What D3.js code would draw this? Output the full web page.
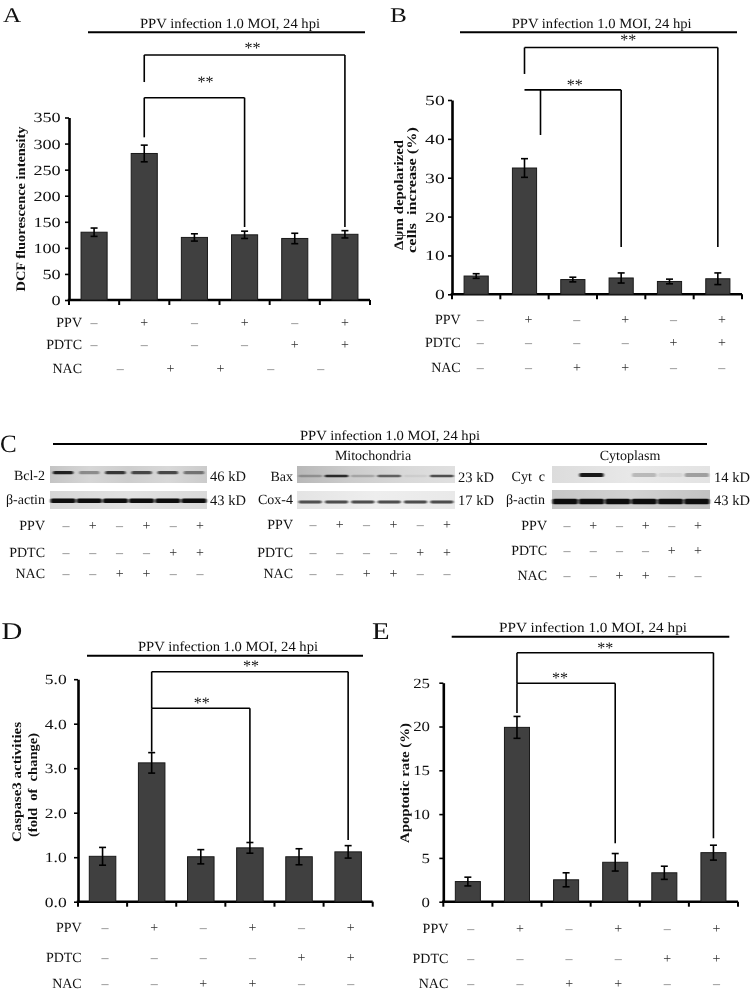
<!DOCTYPE html>
<html><head><meta charset="utf-8">
<script src="https://cdn.jsdelivr.net/npm/d3@7"></script>
<style>
body{margin:0;background:#fff}
svg{display:block;filter:grayscale(1)}
text{font-family:"Liberation Serif","Times New Roman",serif;white-space:pre;text-rendering:geometricPrecision}
</style>
</head><body>
<svg id="fig" width="751" height="992"></svg>
<script>
// ---------------- DATA ----------------
const groups = ["g1","g2","g3","g4","g5","g6"];
const ppvRow  = ["–","+","–","+","–","+"];
const pdtcRow = ["–","–","–","–","+","+"];
const nacRow  = ["–","–","+","+","–","–"];
const nacRowA = ["–","+","+","–","–"];
const titleText = "PPV infection 1.0 MOI, 24 hpi";

const dcfValues = [130, 281, 120, 125, 118, 126];
const dcfErrors = [8, 16, 7, 7, 10, 7];
const dcfTicks  = [0, 50, 100, 150, 200, 250, 300, 350];

const psiValues = [4.7, 32.5, 3.8, 4.2, 3.3, 4.0];
const psiErrors = [0.6, 2.4, 0.6, 1.3, 0.6, 1.5];
const psiTicks  = [0, 10, 20, 30, 40, 50];

const caspValues = [1.02, 3.12, 1.01, 1.21, 1.01, 1.12];
const caspErrors = [0.2, 0.23, 0.16, 0.12, 0.18, 0.14];
const caspTicks  = [0, 1, 2, 3, 4, 5];

const apoValues = [2.3, 19.9, 2.5, 4.5, 3.3, 5.6];
const apoErrors = [0.5, 1.25, 0.8, 1.0, 0.75, 0.85];
const apoTicks  = [0, 5, 10, 15, 20, 25];

// western blot band intensities (0..1) per lane
const lanes = [1, 2, 3, 4, 5, 6];
const bcl2Bands   = [0.9, 0.35, 0.8, 0.72, 0.72, 0.5];
const actinLBands = [1, 1, 1, 1, 1, 1];
const baxBands    = [0.25, 0.85, 0.2, 0.6, 0.06, 0.7];
const cox4Bands   = [0.7, 0.72, 0.72, 0.72, 0.72, 0.72];
const cytcBands   = [0.0, 0.95, 0.0, 0.2, 0.07, 0.3];
const actinRBands = [1, 1, 1, 1, 1, 1];

// ---------------- HELPERS ----------------
const svg = d3.select("#fig");
const defs = svg.append("defs");
defs.append("filter").attr("id","blur").attr("x","-20%").attr("y","-100%").attr("width","140%").attr("height","300%")
  .append("feGaussianBlur").attr("stdDeviation","1 0.6");

function stretch(sel, f){
  sel.each(function(){
    const w = this.getComputedTextLength();
    if (w > 0) d3.select(this).attr("textLength", w*f).attr("lengthAdjust","spacingAndGlyphs");
  });
  return sel;
}
function fit(sel, len){ return sel.attr("textLength", len).attr("lengthAdjust","spacingAndGlyphs"); }

function panelLetter(t, x, y, size, f){
  stretch(svg.append("text").attr("x",x).attr("y",y).attr("font-size",size).attr("fill","#111").text(t), f);
}
function header(cx, baseY, lineY, x0, x1, len){
  fit(svg.append("text").attr("x",cx).attr("y",baseY).attr("text-anchor","middle")
    .attr("font-size",14).attr("fill","#111").text(titleText), len);
  svg.append("line").attr("x1",x0).attr("x2",x1).attr("y1",lineY).attr("y2",lineY)
    .attr("stroke","#000").attr("stroke-width",2);
}

function barPanel(cfg){
  const g = svg.append("g");
  const x = d3.scaleBand().domain(groups).range(cfg.xRange);
  const y = d3.scaleLinear().domain(cfg.yDomain).range(cfg.yRange);
  const cx = i => x(groups[i]) + x.bandwidth()/2;
  const y0 = y(0);

  // y axis
  const ya = g.append("g").attr("transform",`translate(${cfg.xRange[0]},0)`)
    .call(d3.axisLeft(y).tickValues(cfg.ticks).tickFormat(cfg.fmt).tickSize(4).tickSizeOuter(0).tickPadding(cfg.tickPad));
  ya.attr("font-family",null).attr("font-size",14);
  ya.select(".domain").attr("stroke","#000").attr("stroke-width",2.6);
  ya.selectAll(".tick line").attr("stroke","#000").attr("stroke-width",1.6);
  ya.selectAll(".tick text").attr("fill","#111");
  stretch(ya.selectAll(".tick text"), cfg.tickStretch);

  // x axis
  g.append("line").attr("x1",cfg.xRange[0]-1.3).attr("x2",cfg.xRange[1]).attr("y1",y0).attr("y2",y0)
    .attr("stroke","#000").attr("stroke-width",2.6);
  const bounds = groups.map(d => x(d)).concat([x.range()[1]]);
  g.selectAll("line.xt").data(bounds).join("line").attr("class","xt")
    .attr("x1",d=>d).attr("x2",d=>d).attr("y1",y0).attr("y2",y0+5)
    .attr("stroke","#000").attr("stroke-width",2);

  // bars
  const bw = x.bandwidth()*cfg.barFrac;
  g.selectAll("rect.bar").data(cfg.values).join("rect").attr("class","bar")
    .attr("x",(d,i)=>cx(i)-bw/2).attr("y",d=>y(d)).attr("width",bw).attr("height",d=>y0-y(d))
    .attr("fill","#404040").attr("stroke","#1a1a1a").attr("stroke-width",1);
  // error bars
  const eb = g.selectAll("g.eb").data(cfg.values).join("g").attr("class","eb");
  eb.append("line").attr("x1",(d,i)=>cx(i)).attr("x2",(d,i)=>cx(i))
    .attr("y1",(d,i)=>y(d-cfg.errors[i])).attr("y2",(d,i)=>y(d+cfg.errors[i]));
  eb.append("line").attr("x1",(d,i)=>cx(i)-3.5).attr("x2",(d,i)=>cx(i)+3.5)
    .attr("y1",(d,i)=>y(d+cfg.errors[i])).attr("y2",(d,i)=>y(d+cfg.errors[i]));
  eb.append("line").attr("x1",(d,i)=>cx(i)-3.5).attr("x2",(d,i)=>cx(i)+3.5)
    .attr("y1",(d,i)=>y(d-cfg.errors[i])).attr("y2",(d,i)=>y(d-cfg.errors[i]));
  eb.selectAll("line").attr("stroke","#000").attr("stroke-width",1.6);

  // significance brackets
  cfg.brackets.forEach(b => {
    const xa = cx(b.from), xb = cx(b.to), yt = y(b.top);
    const lines = [
      [xa, yt, xb, yt],
      [xa + (b.leftDx||0), yt, xa + (b.leftDx||0), y(b.leftEnd)],
      [xb, yt, xb, y(b.rightEnd)]
    ];
    lines.forEach(l => g.append("line").attr("x1",l[0]).attr("y1",l[1]).attr("x2",l[2]).attr("y2",l[3])
      .attr("stroke","#000").attr("stroke-width",1.6));
    g.append("text").attr("x",(xa+xb)/2 + b.starDx).attr("y",y(b.starY)).attr("dy","0.47em")
      .attr("text-anchor","middle").attr("font-size",16).attr("fill","#111").text("**");
  });

  // y label
  cfg.ylabel.forEach(l => {
    fit(g.append("text").attr("transform",`translate(${l.x},${l.cy}) rotate(-90)`)
      .attr("text-anchor","middle").attr("font-size",13).attr("font-weight","bold").attr("fill","#111").text(l.text), l.len);
  });

  // treatment rows
  cfg.rows.forEach(r => {
    g.append("text").attr("x",cfg.rowLabelX).attr("y",r.y).attr("dy","0.35em").attr("text-anchor","end")
      .attr("font-size",14).attr("fill","#111").text(r.label);
    g.selectAll(null).data(r.symbols).join("text")
      .attr("x",(d,i)=> r.between ? x(groups[i+1]) + cfg.symDx + 1 : cx(i) + cfg.symDx)
      .attr("y",r.y).attr("dy","0.35em").attr("text-anchor","middle").attr("font-size",14)
      .attr("fill",d=> d==="+" ? "#333" : "#777").text(d=>d);
  });
}

// ---------------- PANEL A ----------------
panelLetter("A", 3, 22, 21, 1.2);
header(230, 27.5, 32.3, 88, 365, 180);
barPanel({
  xRange:[69, 370], yDomain:[0,350], yRange:[300,117.5],
  ticks:dcfTicks, fmt:d3.format("d"), tickPad:4.3, tickStretch:1.3,
  values:dcfValues, errors:dcfErrors, barFrac:0.52,
  brackets:[
    {from:1,to:5,top:470,leftEnd:418,rightEnd:140,starY:489,starDx:8},
    {from:1,to:3,top:388,leftEnd:312,rightEnd:140,starY:422,starDx:11}
  ],
  ylabel:[{x:25, cy:209, len:165, text:"DCF fluorescence intensity"}],
  rowLabelX:82, symDx:0,
  rows:[{label:"PPV",y:321.7,symbols:ppvRow},{label:"PDTC",y:344,symbols:pdtcRow},{label:"NAC",y:367.7,symbols:nacRowA,between:true}]
});

// ---------------- PANEL B ----------------
panelLetter("B", 390, 22, 21, 1.2);
header(601.7, 27.5, 32.3, 460, 737, 180);
barPanel({
  xRange:[452, 742], yDomain:[0,50], yRange:[294.3,100],
  ticks:psiTicks, fmt:d3.format("d"), tickPad:3.3, tickStretch:1.4,
  values:psiValues, errors:psiErrors, barFrac:0.5,
  brackets:[
    {from:1,to:5,top:63.5,leftEnd:56.7,rightEnd:12.2,starY:66,starDx:7},
    {from:1,to:3,top:52.6,leftEnd:41,rightEnd:12.2,starY:54.4,starDx:2,leftDx:16}
  ],
  ylabel:[{x:402.5, cy:195, len:110, text:"Δψm depolarized"},{x:416, cy:190, len:126, text:"cells  increase (%)"}],
  rowLabelX:460.7, symDx:4,
  rows:[{label:"PPV",y:319,symbols:ppvRow},{label:"PDTC",y:341.7,symbols:pdtcRow},{label:"NAC",y:366.7,symbols:nacRow}]
});

// ---------------- PANEL C ----------------
panelLetter("C", 0, 452, 25, 1.0);
header(390, 440, 444, 53, 707, 180);
svg.append("text").attr("x",373).attr("y",460).attr("text-anchor","middle").attr("font-size",14).attr("fill","#111").text("Mitochondria");
svg.append("text").attr("x",630).attr("y",460).attr("text-anchor","middle").attr("font-size",14).attr("fill","#111").text("Cytoplasm");

const blotBlocks = [
  {x0:50, x1:207, labelX:45, sizeX:210, symRange:[66,200], labelRight:45,
   rowY:[525,551.7,573.3],
   blots:[
    {name:"Bcl-2", size:"46 kD", y0:466, y1:483, bandY:472.7, bandH:3.2, frac:0.78, data:bcl2Bands, bg:["#c4c4c4","#d6d6d6","#cdcdcd","#d8d8d8","#cbcbcb"], base:480},
    {name:"β-actin", size:"43 kD", y0:491, y1:509, bandY:500.7, bandH:4.5, frac:0.96, data:actinLBands, bg:["#d6d6d6","#e2e2e2","#dadada"], base:504}
   ]},
  {x0:297, x1:455, labelX:293, sizeX:458, symRange:[313,447], labelRight:293,
   rowY:[524,551.7,573.3],
   blots:[
    {name:"Bax", size:"23 kD", y0:466, y1:483, bandY:476, bandH:2.6, frac:0.9, data:baxBands, bg:["#b8b8b8","#cccccc","#d8d8d8","#e0e0e0"], base:480.5},
    {name:"Cox-4", size:"17 kD", y0:491, y1:509, bandY:502, bandH:2.8, frac:0.88, data:cox4Bands, bg:["#e4e4e4","#eeeeee","#e9e9e9"], base:504}
   ]},
  {x0:552, x1:710, labelX:545, sizeX:714, symRange:[567,698], labelRight:547,
   rowY:[525,550,575],
   blots:[
    {name:"Cyt\u00a0 c", size:"14 kD", y0:466, y1:483, bandY:475, bandH:3.8, frac:0.92, data:cytcBands, bg:["#dcdcdc","#e8e8e8","#e3e3e3"], base:480.5},
    {name:"β-actin", size:"43 kD", y0:490, y1:509, bandY:501.5, bandH:5.5, frac:0.96, data:actinRBands, bg:["#c6c6c6","#d2d2d2","#c2c2c2"], base:504}
   ]}
];

let gid = 0;
blotBlocks.forEach(bk => {
  const lx = d3.scaleBand().domain(lanes).range([bk.x0, bk.x1]);
  bk.blots.forEach(bl => {
    const id = "bg" + (gid++);
    const grad = defs.append("linearGradient").attr("id",id).attr("x1","0").attr("x2","1").attr("y1","0").attr("y2","0");
    bl.bg.forEach((c,i) => grad.append("stop").attr("offset", i/(bl.bg.length-1)).attr("stop-color", c));
    svg.append("rect").attr("x",bk.x0).attr("y",bl.y0).attr("width",bk.x1-bk.x0).attr("height",bl.y1-bl.y0)
      .attr("fill",`url(#${id})`);
    const w = lx.bandwidth()*bl.frac;
    svg.append("g").attr("filter","url(#blur)").selectAll("rect").data(bl.data).join("rect")
      .attr("x",(d,i)=> lx(lanes[i]) + (lx.bandwidth()-w)/2).attr("y",bl.bandY-bl.bandH/2)
      .attr("width",w).attr("height",bl.bandH).attr("rx",1.5)
      .attr("fill","#0d0d0d").attr("opacity",d=>d);
    svg.append("text").attr("x",bk.labelX).attr("y",bl.base).attr("text-anchor","end")
      .attr("font-size",14).attr("fill","#111").text(bl.name);
    svg.append("text").attr("x",bk.sizeX).attr("y",bl.base+1).attr("font-size",14.5).attr("fill","#111").text(bl.size);
  });
  const sx = d3.scalePoint().domain(lanes).range(bk.symRange);
  [["PPV",ppvRow],["PDTC",pdtcRow],["NAC",nacRow]].forEach((r,k) => {
    svg.append("text").attr("x",bk.labelRight).attr("y",bk.rowY[k]).attr("dy","0.35em").attr("text-anchor","end")
      .attr("font-size",14).attr("fill","#111").text(r[0]);
    svg.append("g").selectAll("text").data(r[1]).join("text")
      .attr("x",(d,i)=>sx(lanes[i])).attr("y",bk.rowY[k]).attr("dy","0.35em").attr("text-anchor","middle")
      .attr("font-size",14).attr("fill",d=> d==="+" ? "#333" : "#777").text(d=>d);
  });
});

// ---------------- PANEL D ----------------
panelLetter("D", 1.5, 639, 24, 1.2);
header(228, 651, 655.7, 87, 363, 180);
barPanel({
  xRange:[78, 372.7], yDomain:[0,5], yRange:[901.7,679.2],
  ticks:caspTicks, fmt:d3.format(".1f"), tickPad:7.3, tickStretch:1.25,
  values:caspValues, errors:caspErrors, barFrac:0.54,
  brackets:[
    {from:1,to:5,top:5.168,leftEnd:4.346,rightEnd:1.387,starY:5.364,starDx:1},
    {from:1,to:3,top:4.346,leftEnd:3.371,rightEnd:1.319,starY:4.533,starDx:1}
  ],
  ylabel:[{x:21, cy:782, len:120, text:"Caspase3 activities"},{x:37, cy:785, len:104, text:"(fold  of  change)"}],
  rowLabelX:81.7, symDx:2.5,
  rows:[{label:"PPV",y:926.7,symbols:ppvRow},{label:"PDTC",y:956.7,symbols:pdtcRow},{label:"NAC",y:983.5,symbols:nacRow}]
});

// ---------------- PANEL E ----------------
panelLetter("E", 372, 639, 24, 1.2);
header(593, 632, 636.7, 451.7, 729.3, 188);
barPanel({
  xRange:[443.3, 738], yDomain:[0,25], yRange:[901.7,682.7],
  ticks:apoTicks, fmt:d3.format("d"), tickPad:9.3, tickStretch:1.2,
  values:apoValues, errors:apoErrors, barFrac:0.51,
  brackets:[
    {from:1,to:5,top:28.42,leftEnd:24.93,rightEnd:7.24,starY:29.3,starDx:-10},
    {from:1,to:3,top:24.93,leftEnd:21.54,rightEnd:6.67,starY:25.88,starDx:-6}
  ],
  ylabel:[{x:409, cy:783, len:120, text:"Apoptotic rate (%)"}],
  rowLabelX:448.3, symDx:3,
  rows:[{label:"PPV",y:928.3,symbols:ppvRow},{label:"PDTC",y:957.7,symbols:pdtcRow},{label:"NAC",y:983.5,symbols:nacRow}]
});
</script>
</body></html>
